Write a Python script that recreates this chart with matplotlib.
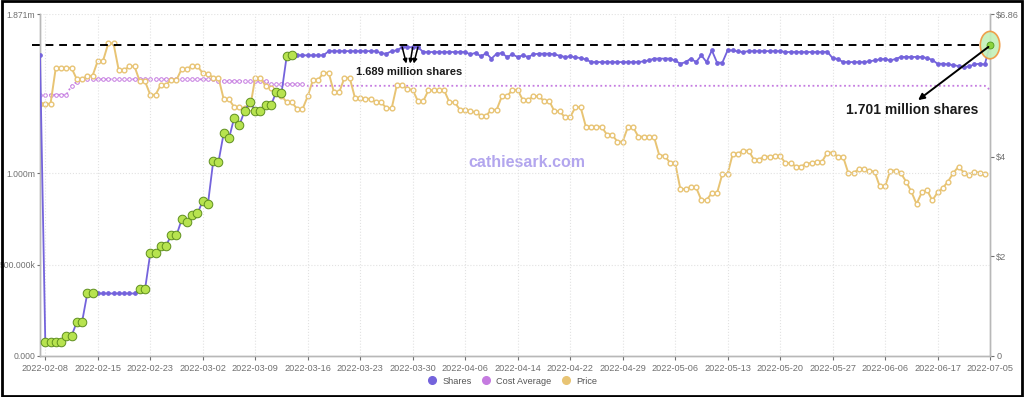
import numpy as np
import matplotlib
matplotlib.use("Agg")
import matplotlib.pyplot as plt
from matplotlib.patches import Ellipse, Rectangle
from matplotlib.lines import Line2D

plt.rcParams['font.family'] = ['Liberation Sans', 'DejaVu Sans']

# ---------------- data ----------------
tick_labels = ["2022-02-08", "2022-02-15", "2022-02-23", "2022-03-02", "2022-03-09",
               "2022-03-16", "2022-03-23", "2022-03-30", "2022-04-06", "2022-04-14",
               "2022-04-22", "2022-04-29", "2022-05-06", "2022-05-13", "2022-05-20",
               "2022-05-27", "2022-06-06", "2022-06-17", "2022-07-05"]
tick_step = 10  # data points between labelled ticks

# shares held, in millions
shares = ([1.645] + [0.078] * 4 + [0.110] * 2 + [0.185] * 2 + [0.342] * 10 + [0.364] * 2 +
          [0.561, 0.565, 0.601, 0.603, 0.661, 0.661, 0.747, 0.734, 0.770, 0.780,
           0.847, 0.834, 1.066, 1.062, 1.220, 1.190, 1.304, 1.264, 1.343, 1.390,
           1.343, 1.343, 1.373, 1.373, 1.443, 1.437, 1.641, 1.645] +
          [1.645] * 6 + [1.668] * 10 +
          [1.656, 1.654, 1.668, 1.672, 1.690, 1.690, 1.689, 1.690] +
          [1.663] * 9 +
          [1.650, 1.659, 1.639, 1.657, 1.627, 1.654, 1.657, 1.636, 1.650, 1.636,
           1.645, 1.636, 1.650, 1.654, 1.654, 1.654, 1.650, 1.643, 1.636, 1.639,
           1.634, 1.630, 1.623] +
          [1.608] * 10 +
          [1.612, 1.617, 1.627, 1.627, 1.627, 1.627, 1.617, 1.599, 1.608, 1.627,
           1.608, 1.645, 1.608, 1.672, 1.605, 1.605, 1.672, 1.672, 1.666, 1.663] +
          [1.668] * 7 + [1.663] * 8 +
          [1.665, 1.630, 1.625] + [1.608] * 5 +
          [1.612, 1.617, 1.623, 1.625, 1.617, 1.625] + [1.636] * 5 +
          [1.630, 1.620, 1.599, 1.599, 1.595, 1.592, 1.586, 1.581, 1.584, 1.595,
           1.599, 1.595, 1.701])

# indices of buy days (highlighted markers)
buy_days = list(range(1, 11)) + list(range(19, 49)) + [181]

cost_avg = ([5.24] * 6 + [5.42, 5.50] + [5.55] * 26 + [5.51] * 10 + [5.45] * 7 +
            [5.42] * 130 + [5.34])

price = [5.06, 5.06, 5.06, 5.78, 5.78, 5.78, 5.78, 5.55, 5.55, 5.62, 5.62,
         5.92, 5.92, 6.27, 6.27, 5.73, 5.73, 5.81, 5.81, 5.51, 5.51,
         5.24, 5.24, 5.44, 5.44, 5.54, 5.54, 5.76, 5.76, 5.82, 5.82,
         5.67, 5.66, 5.58, 5.58, 5.15, 5.15, 4.99, 4.99, 4.97, 4.97,
         5.58, 5.58, 5.41, 5.38, 5.30, 5.22, 5.09, 5.09, 4.95, 4.95,
         5.21, 5.54, 5.54, 5.68, 5.68, 5.29, 5.29, 5.58, 5.58,
         5.18, 5.18, 5.16, 5.16, 5.09, 5.09, 4.97, 4.97, 5.44, 5.44,
         5.35, 5.34, 5.11, 5.11, 5.33, 5.33, 5.33, 5.33, 5.09, 5.09,
         4.94, 4.94, 4.91, 4.89, 4.82, 4.82, 4.94, 4.94, 5.21, 5.21,
         5.34, 5.34, 5.13, 5.13, 5.21, 5.21, 5.12, 5.12, 4.91, 4.91,
         4.79, 4.79, 4.99, 4.99, 4.60, 4.60, 4.60, 4.60, 4.44, 4.44,
         4.30, 4.30, 4.59, 4.59, 4.40, 4.40, 4.40, 4.39, 4.02, 4.02,
         3.88, 3.88, 3.35, 3.35, 3.39, 3.38, 3.13, 3.13, 3.27, 3.27,
         3.65, 3.65, 4.06, 4.06, 4.12, 4.12, 3.94, 3.94, 4.00, 4.00,
         4.01, 4.02, 3.87, 3.87, 3.80, 3.80, 3.86, 3.87, 3.90, 3.90,
         4.08, 4.08, 4.00, 4.00, 3.67, 3.67, 3.75, 3.75, 3.71, 3.70,
         3.40, 3.40, 3.72, 3.72, 3.67, 3.50, 3.30, 3.05, 3.28, 3.33,
         3.12, 3.28, 3.37, 3.50, 3.67, 3.80, 3.68, 3.63, 3.70, 3.67,
         3.65, np.nan]

left_ticks = [0, 0.5, 1.0, 1.871]
left_tick_labels = ["0.000", "500.000k", "1.000m", "1.871m"]
right_ticks = [0, 2, 4, 6.86]
right_tick_labels = ["0", "$2", "$4", "$6.86"]

peak_idx = [69, 71, 72]       # points the "1.689 million shares" note refers to
last_idx = len(shares) - 1

# ---------------- colours ----------------
c_shares = "#7463dc"
c_cost = "#c57be0"
c_price = "#e8c474"
c_buy_face = "#b7e34f"
c_buy_edge = "#5f8f1f"
c_tick = "#707070"
c_spine = "#b8b8b8"

fig = plt.figure(figsize=(10.24, 3.97), dpi=100, facecolor="white")
ax = fig.add_axes([0.0391, 0.1033, 0.9277, 0.8614])
ax2 = ax.twinx()
ax.set_zorder(ax2.get_zorder() + 1)
ax.patch.set_visible(False)

xs = np.arange(len(shares))
xc = np.arange(len(cost_avg))
xp = np.arange(len(price))

# price and cost average on the right axis
ax2.plot(xp, price, color=c_price, lw=1.4, marker="o", ms=3.4, mfc="white",
         mec=c_price, mew=1.0, zorder=2)
ax2.plot(xc, cost_avg, color=c_cost, lw=1.3, ls=(0, (1, 1.5)), marker="o", ms=2.6,
         mfc="white", mec=c_cost, mew=0.7, markevery=list(range(0, 51)), zorder=1)

# shares on left axis
ax.plot(xs, shares, color=c_shares, lw=1.3, marker="o", ms=2.4, mfc=c_shares,
        mec=c_shares, zorder=3)
sh = np.array(shares)
ax.plot(np.array(buy_days[:-1]), sh[buy_days[:-1]], ls="none", marker="o", ms=6.2,
        mfc=c_buy_face, mec=c_buy_edge, mew=0.7, zorder=4)

# limits and ticks
ax.set_xlim(0, last_idx)
ax.set_ylim(0, 1.871)
ax2.set_ylim(0, 6.86)
xticks = list(range(1, len(shares), tick_step))
ax.set_xticks(xticks)
ax.set_xticklabels(tick_labels)
ax.set_yticks(left_ticks)
ax.set_yticklabels(left_tick_labels)
ax2.set_yticks(right_ticks)
ax2.set_yticklabels(right_tick_labels)

for a in (ax, ax2):
    a.tick_params(labelsize=6.6, colors=c_tick, length=3, width=0.8, pad=1.5)
    a.spines["top"].set_visible(False)
    for s in ("left", "right", "bottom"):
        a.spines[s].set_color(c_spine)
        a.spines[s].set_linewidth(1.0)
ax.tick_params(axis="y", labelsize=6.2, pad=0.8, length=2.5)
ax.tick_params(axis="x", pad=3)

ax.grid(True, ls=":", color="#e2e2e2", lw=0.8)
ax.set_axisbelow(True)

# dashed reference line at the final holding
ax.hlines(shares[last_idx], -1.5, last_idx - 1.2, colors="black", linestyles=(0, (4, 3)),
          lw=1.4, clip_on=False, zorder=5)

# highlight on the last point
ax.add_patch(Ellipse((last_idx, shares[last_idx]), width=3.7, height=0.15,
                     facecolor="#c3f0b8", edgecolor="#f0963c", lw=1.2, alpha=0.9,
                     clip_on=False, zorder=6))
ax.plot([last_idx], [shares[last_idx]], marker="o", ms=5, mfc="#8bd43c",
        mec="#4f9a1f", mew=0.6, clip_on=False, zorder=7)

# annotations
ax.text(166.2, 1.344, "1.701 million shares", ha="center", va="center",
        fontsize=10, fontweight="bold", color="#1a1a1a", zorder=8)
ax.annotate("", xy=(167.3, 1.40), xytext=(last_idx - 0.3, shares[last_idx] - 0.01),
            arrowprops=dict(arrowstyle="-|>", color="black", lw=1.4,
                            mutation_scale=9, shrinkA=0, shrinkB=0), zorder=8)

ax.text(70.3, 1.552, "1.689 million shares", ha="center", va="center",
        fontsize=8, fontweight="bold", color="#1a1a1a", zorder=8)
targets = [(69.8, 1.60), (70.5, 1.60), (71.2, 1.60)]
for pi, (tx, ty) in zip(peak_idx, targets):
    ax.annotate("", xy=(tx, ty), xytext=(pi, shares[pi]),
                arrowprops=dict(arrowstyle="-|>", color="black", lw=1.1,
                                mutation_scale=6, shrinkA=0, shrinkB=0), zorder=8)

# watermark
ax.text(0.513, 0.567, "cathiesark.com", transform=ax.transAxes, ha="center",
        va="center", fontsize=11.5, fontweight="bold", color="#b3a6ee", zorder=0)

# legend
handles = [Line2D([], [], ls="none", marker="o", ms=5.5, mfc=c_shares, mec=c_shares),
           Line2D([], [], ls="none", marker="o", ms=5.5, mfc=c_cost, mec=c_cost),
           Line2D([], [], ls="none", marker="o", ms=5.5, mfc=c_price, mec=c_price)]
fig.legend(handles, ["Shares", "Cost Average", "Price"], loc="center",
           bbox_to_anchor=(0.498, 0.04), ncol=3, frameon=False, fontsize=6.6,
           handletextpad=0.1, columnspacing=0.6, labelcolor="#555555")

# outer frame
fig.patches.append(Rectangle((0.0015, 0.003), 0.997, 0.994, transform=fig.transFigure,
                             fill=False, edgecolor="black", lw=2.0))

fig.savefig("out.png", dpi=100, facecolor="white")
